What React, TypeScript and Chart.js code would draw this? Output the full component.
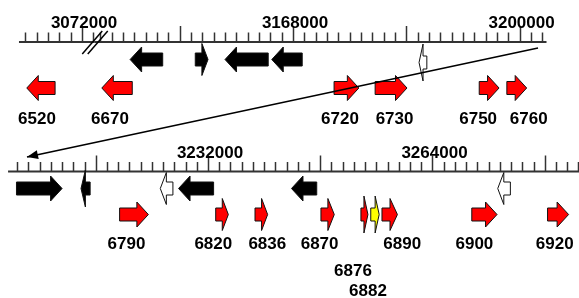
import React, { useEffect, useRef } from "react";
import { Chart, registerables } from "chart.js";

Chart.register(...registerables);

// ---------------- DATA (genomic coordinates, bp) ----------------
// Reference genome ruler labels
const topLeftRulerLabels = [3072000];
const topRightRulerLabels = [3168000, 3200000];
const bottomRulerLabels = [3232000, 3264000];
const minorTickStep = 1600;
const majorTickStep = 16000;

// Ruler segments (bp extent)
const topLeftSpan = [3063100, 3073800];
const topRightSpan = [3140000, 3203800];
const bottomSpan = [3203500, 3285000];

// Reference genes, top row (black / hollow arrows)
const refTopStart = [3145000, 3154200, 3158400, 3165000, 3185800];
const refTopEnd = [3149600, 3156000, 3164500, 3169300, 3186900];
const refTopStrand = [-1, 1, -1, -1, -1];
const refTopKind = ["black", "black", "black", "black", "hollow"];

// Reference genes, bottom row
const refBotStart = [3204700, 3213900, 3225200, 3227800, 3243900, 3273300];
const refBotEnd = [3211200, 3215200, 3227000, 3232800, 3247500, 3275100];
const refBotStrand = [1, -1, -1, -1, -1, -1];
const refBotKind = ["black", "black", "hollow", "black", "black", "hollow"];

// Query genes, top row (red arrows)
const qTopIds = ["6520", "6670", "6720", "6730", "6750", "6760"];
const qTopStart = [3064200, 3141000, 3173800, 3179600, 3194300, 3198200];
const qTopEnd = [3068200, 3145300, 3177300, 3184100, 3197100, 3201000];
const qTopStrand = [-1, -1, 1, 1, 1, 1];

// Query genes, bottom row
const qBotIds = ["6790", "6820", "6836", "6870", "6876", "6882", "6890", "6900", "6920"];
const qBotStart = [3219400, 3233100, 3238700, 3248100, 3253800, 3255200, 3256800, 3269600, 3280400];
const qBotEnd = [3223500, 3234900, 3240500, 3250000, 3254800, 3256400, 3259000, 3273200, 3283400];
const qBotStrand = [1, 1, 1, 1, 1, 1, 1, 1, 1];
const qBotKind = ["red", "red", "red", "red", "red", "yellow", "red", "red", "red"];

// Continuation link (end of top row -> start of bottom row)
const linkFrom = 3202600;
const linkTo = 3206200;

// ---------------- LAYOUT ----------------
const W = 579;
const H = 298;
const Y = { topRuler: 42, topRef: 59.5, topQ: 88, botRuler: 171.5, botRef: 188.5, botQ: 214.5 };
const labelLayout: Record<string, [number, number]> = {
  "6520": [-4, 124], "6670": [-7, 124], "6720": [-6.5, 124], "6730": [3.5, 124],
  "6750": [-11, 124], "6760": [12, 124], "6790": [-7.5, 248.5], "6820": [-8.7, 248.5],
  "6836": [6, 248.5], "6870": [-8, 248.5], "6876": [-11.5, 276], "6882": [-7, 296],
  "6890": [12.5, 248.5], "6900": [-10, 248.5], "6920": [-3.3, 248.5],
};
const FONT = "bold 17px 'Liberation Sans', Arial, sans-serif";

function topAxis(bp: number) {
  return bp < 3100000 ? "xTL" : "xTR";
}

function drawArrow(ctx: CanvasRenderingContext2D, xa: number, xb: number, yc: number, dir: number, kind: string) {
  const x1 = Math.min(xa, xb);
  const x2 = Math.max(xa, xb);
  const len = x2 - x1;
  const big = len >= 18;
  const headL = big ? 11.5 : Math.max(4, len * 0.48);
  const headH = big ? 25 : len < 10 ? 37 : 32;
  const bodyH = 13;
  const tail = dir > 0 ? x1 : x2;
  const tip = dir > 0 ? x2 : x1;
  const hb = tip - dir * headL;
  ctx.beginPath();
  ctx.moveTo(tail, yc - bodyH / 2);
  ctx.lineTo(hb, yc - bodyH / 2);
  ctx.lineTo(hb, yc - headH / 2);
  ctx.lineTo(tip, yc);
  ctx.lineTo(hb, yc + headH / 2);
  ctx.lineTo(hb, yc + bodyH / 2);
  ctx.lineTo(tail, yc + bodyH / 2);
  ctx.closePath();
  const fill = kind === "black" ? "#000" : kind === "hollow" ? "#fff" : kind === "yellow" ? "#ffff00" : "#ff0000";
  ctx.fillStyle = fill;
  ctx.fill();
  ctx.lineWidth = 1;
  ctx.strokeStyle = "#111";
  ctx.stroke();
}

const genomePlugin = {
  id: "genomePlugin",
  afterDatasetsDraw(chart: any) {
    const ctx: CanvasRenderingContext2D = chart.ctx;
    const sTL = chart.scales.xTL;
    const sTR = chart.scales.xTR;
    const sB = chart.scales.xB;
    const sy = chart.scales.y;
    const py = (v: number) => sy.getPixelForValue(v);
    ctx.save();

    // rulers
    const rulers: [any, number[], number, number[]][] = [
      [sTL, topLeftSpan, Y.topRuler, topLeftRulerLabels],
      [sTR, topRightSpan, Y.topRuler, topRightRulerLabels],
      [sB, bottomSpan, Y.botRuler, bottomRulerLabels],
    ];
    for (const [sc, span, yv, labels] of rulers) {
      const yl = py(yv);
      ctx.strokeStyle = "#333";
      ctx.lineWidth = 2;
      ctx.beginPath();
      ctx.moveTo(sc.getPixelForValue(span[0]), yl);
      ctx.lineTo(sc.getPixelForValue(span[1]), yl);
      ctx.stroke();
      ctx.lineWidth = 1.5;
      const first = Math.ceil(span[0] / minorTickStep) * minorTickStep;
      for (let t = first; t <= span[1]; t += minorTickStep) {
        const x = Math.round(sc.getPixelForValue(t)) + 0.5;
        const tall = t % majorTickStep === 0;
        ctx.beginPath();
        ctx.moveTo(x, yl);
        ctx.lineTo(x, yl - (tall ? 16 : 9.5));
        ctx.stroke();
      }
      ctx.fillStyle = "#000";
      ctx.font = FONT;
      ctx.textAlign = "center";
      ctx.textBaseline = "alphabetic";
      for (const l of labels) {
        ctx.fillText(String(l), sc.getPixelForValue(l) + 2, yl - 14);
      }
    }

    // break marks
    const bx = sTL.getPixelForValue(topLeftSpan[1]);
    const by = py(Y.topRuler);
    ctx.strokeStyle = "#000";
    ctx.lineWidth = 1.5;
    for (const off of [-2.5, 3]) {
      ctx.beginPath();
      ctx.moveTo(bx + off - 10, by + 12);
      ctx.lineTo(bx + off + 10, by - 11);
      ctx.stroke();
    }

    // reference genes
    for (let i = 0; i < refTopStart.length; i++) {
      const sc = chart.scales[topAxis(refTopStart[i])];
      const yc = py(Y.topRef) + (refTopKind[i] === "hollow" ? 3 : 0);
      drawArrow(ctx, sc.getPixelForValue(refTopStart[i]), sc.getPixelForValue(refTopEnd[i]), yc, refTopStrand[i], refTopKind[i]);
    }
    for (let i = 0; i < refBotStart.length; i++) {
      drawArrow(ctx, sB.getPixelForValue(refBotStart[i]), sB.getPixelForValue(refBotEnd[i]), py(Y.botRef), refBotStrand[i], refBotKind[i]);
    }

    // query genes + labels
    ctx.font = FONT;
    ctx.textAlign = "center";
    ctx.textBaseline = "alphabetic";
    for (let i = 0; i < qTopIds.length; i++) {
      const sc = chart.scales[topAxis(qTopStart[i])];
      const x1 = sc.getPixelForValue(qTopStart[i]);
      const x2 = sc.getPixelForValue(qTopEnd[i]);
      drawArrow(ctx, x1, x2, py(Y.topQ), qTopStrand[i], "red");
      const [dx, yb] = labelLayout[qTopIds[i]];
      ctx.fillStyle = "#000";
      ctx.fillText(qTopIds[i], (x1 + x2) / 2 + dx, yb);
    }
    for (let i = 0; i < qBotIds.length; i++) {
      const x1 = sB.getPixelForValue(qBotStart[i]);
      const x2 = sB.getPixelForValue(qBotEnd[i]);
      drawArrow(ctx, x1, x2, py(Y.botQ), qBotStrand[i], qBotKind[i]);
      const [dx, yb] = labelLayout[qBotIds[i]];
      ctx.fillStyle = "#000";
      ctx.fillText(qBotIds[i], (x1 + x2) / 2 + dx, yb);
    }

    // continuation link
    const lx1 = sTR.getPixelForValue(linkFrom);
    const ly1 = py(Y.topRuler) + 6;
    const lx2 = sB.getPixelForValue(linkTo);
    const ly2 = py(Y.botRuler) - 14.5;
    ctx.strokeStyle = "#000";
    ctx.lineWidth = 1.5;
    ctx.beginPath();
    ctx.moveTo(lx1, ly1);
    ctx.lineTo(lx2, ly2);
    ctx.stroke();
    const ang = Math.atan2(ly2 - ly1, lx2 - lx1);
    const hl = 11, hw = 4.5;
    ctx.fillStyle = "#000";
    ctx.beginPath();
    ctx.moveTo(lx2, ly2);
    ctx.lineTo(lx2 - hl * Math.cos(ang) + hw * Math.sin(ang), ly2 - hl * Math.sin(ang) - hw * Math.cos(ang));
    ctx.lineTo(lx2 - hl * Math.cos(ang) - hw * Math.sin(ang), ly2 - hl * Math.sin(ang) + hw * Math.cos(ang));
    ctx.closePath();
    ctx.fill();

    ctx.restore();
  },
};

export default function App() {
  const ref = useRef<HTMLCanvasElement | null>(null);
  useEffect(() => {
    if (!ref.current) return;
    const mid = (a: number[], b: number[]) => a.map((v, i) => (v + b[i]) / 2);
    const chart = new Chart(ref.current, {
      type: "scatter",
      data: {
        datasets: [
          { label: "ref top", xAxisID: "xTR", yAxisID: "y", data: mid(refTopStart, refTopEnd).map((x) => ({ x, y: Y.topRef })), pointRadius: 0 },
          { label: "ref bottom", xAxisID: "xB", yAxisID: "y", data: mid(refBotStart, refBotEnd).map((x) => ({ x, y: Y.botRef })), pointRadius: 0 },
          { label: "query top", xAxisID: "xTR", yAxisID: "y", data: mid(qTopStart, qTopEnd).map((x) => ({ x, y: Y.topQ })), pointRadius: 0 },
          { label: "query bottom", xAxisID: "xB", yAxisID: "y", data: mid(qBotStart, qBotEnd).map((x) => ({ x, y: Y.botQ })), pointRadius: 0 },
        ],
      },
      options: {
        responsive: false,
        animation: false,
        devicePixelRatio: 1,
        layout: { padding: 0 },
        events: [],
        plugins: { legend: { display: false }, tooltip: { enabled: false } },
        scales: {
          xTL: { type: "linear", display: false, min: 3060420, max: 3142186 },
          xTR: { type: "linear", display: false, min: 3126623, max: 3208389 },
          xB: { type: "linear", display: false, min: 3202352, max: 3284883 },
          y: { type: "linear", display: false, min: 0, max: H, reverse: true },
        },
      },
      plugins: [genomePlugin],
    });
    return () => chart.destroy();
  }, []);
  return (
    <div style={{ position: "absolute", left: 0, top: 0, width: W, height: H, background: "#fff" }}>
      <canvas ref={ref} width={W} height={H} style={{ display: "block" }} />
    </div>
  );
}
